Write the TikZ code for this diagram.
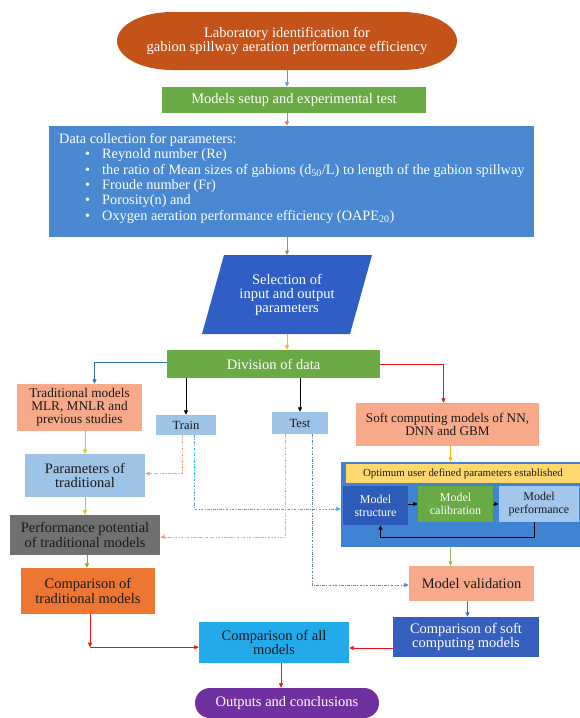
\documentclass[tikz,border=0pt]{standalone}
\usepackage{fontspec}
\setmainfont{Liberation Serif}
\usetikzlibrary{arrows.meta,calc}
\definecolor{cEll}{HTML}{C4531A}
\definecolor{cGreen}{HTML}{6AAA45}
\definecolor{cData}{HTML}{4A89D2}
\definecolor{cSel}{HTML}{2F5FC4}
\definecolor{cSalmon}{HTML}{F7A98A}
\definecolor{cLight}{HTML}{9DC3E6}
\definecolor{cGray}{HTML}{707070}
\definecolor{cOrange}{HTML}{EE7633}
\definecolor{cDark}{HTML}{3560C0}
\definecolor{cAll}{HTML}{22AAEB}
\definecolor{cPurple}{HTML}{7030A0}
\definecolor{cBig}{HTML}{3F84D2}
\definecolor{cBand}{HTML}{FFD86E}
\definecolor{cStruct}{HTML}{2F5BB8}
\definecolor{cPerf}{HTML}{A3C6EC}
\definecolor{cText}{HTML}{1A1A1A}
\definecolor{aBlue}{HTML}{5B9BD5}
\definecolor{aOrange}{HTML}{ED7D31}
\definecolor{aGreen}{HTML}{70AD47}
\definecolor{aYellow}{HTML}{F5B800}
\definecolor{aBlue2}{HTML}{2E75B6}
\definecolor{aRed}{HTML}{F01010}
\definecolor{aOlive}{HTML}{8FA030}
\definecolor{aLGreen}{HTML}{92C050}
\definecolor{aBlue3}{HTML}{4472C4}
\definecolor{aCyan}{HTML}{3AAEE6}
\definecolor{aSteel}{HTML}{5A86BC}
\definecolor{aSalmon}{HTML}{F4A080}
\begin{document}
\begin{tikzpicture}[x=1pt,y=-1pt,
  box/.style={rectangle, inner sep=1pt, align=center, text=cText,
    font=\fontsize{14.5}{14.5}\selectfont},
  smallbox/.style={box, font=\fontsize{12}{13}\selectfont},
  arr/.style={-{Triangle[length=4.5pt,width=4pt]}, line width=0.8pt},
  dd/.style={arr, dash pattern=on 2.5pt off 1.5pt on 0.7pt off 1.5pt}]
\useasboundingbox (0,0) rectangle (579,718);
\fill[white] (0,0) rectangle (579,718);

% top terminal (elliptical ends)
\fill[cEll] (172,12) -- (402,12)
  arc[start angle=-90, end angle=90, x radius=55, y radius=29]
  -- (172,70)
  arc[start angle=90, end angle=270, x radius=55, y radius=29] -- cycle;
\node[box, text=white, minimum width=341pt, minimum height=58pt]
  (ell) at (287,41) {Laboratory identification for\\gabion spillway aeration performance efficiency};
\node[box, fill=cGreen, text=white, minimum width=264pt, minimum height=26pt]
  (models) at (294,100) {Models setup and experimental test};
\node[box, fill=cData, minimum width=485pt, minimum height=111pt] (data) at (291.5,181.5) {};
\node[anchor=north west, inner sep=0pt, align=left, text=white,
  font=\fontsize{14.3}{15.4}\selectfont] (datatext) at (59,133) {%
Data collection for parameters:\\
\hspace*{26pt}\makebox[17pt][l]{\textbullet}Reynold number (Re)\\
\hspace*{26pt}\makebox[17pt][l]{\textbullet}the ratio of Mean sizes of gabions (d\textsubscript{50}/L) to length of the gabion spillway\\
\hspace*{26pt}\makebox[17pt][l]{\textbullet}Froude number (Fr)\\
\hspace*{26pt}\makebox[17pt][l]{\textbullet}Porosity(n) and\\
\hspace*{26pt}\makebox[17pt][l]{\textbullet}Oxygen aeration performance efficiency (OAPE\textsubscript{20})};

% parallelogram
\fill[cSel] (224,255) -- (372,255) -- (350,334) -- (202,334) -- cycle;
\node[box, text=white, minimum width=148pt, minimum height=79pt, font=\fontsize{14.5}{14}\selectfont]
  (sel) at (287,294.5) {Selection of\\input and output\\parameters};

\node[box, fill=cGreen, text=white, minimum width=213pt, minimum height=28pt]
  (div) at (273.5,364) {Division of data};

\node[box, fill=cSalmon, minimum width=125pt, minimum height=47pt, font=\fontsize{13.3}{13.2}\selectfont]
  (trad) at (79.5,407.5) {Traditional models\\MLR, MNLR and\\previous studies};
\node[box, fill=cLight, minimum width=60pt, minimum height=20pt, font=\fontsize{12.5}{13}\selectfont]
  (train) at (186,425) {Train};
\node[box, fill=cLight, minimum width=56pt, minimum height=22pt, font=\fontsize{12.5}{13}\selectfont]
  (test) at (300,423) {Test};
\node[box, fill=cSalmon, minimum width=183pt, minimum height=43pt, font=\fontsize{13.2}{13}\selectfont]
  (soft) at (447.5,424.5) {Soft computing models of NN,\\DNN and GBM};

\node[box, fill=cLight, minimum width=120pt, minimum height=43pt]
  (params) at (85,475.5) {Parameters of\\traditional};
\node[box, fill=cGray, minimum width=150pt, minimum height=40pt]
  (perf) at (85,535) {Performance potential\\of traditional models};
\node[box, fill=cOrange, minimum width=134pt, minimum height=46pt]
  (ctrad) at (88,591) {Comparison of\\traditional models};

% big box
\node[box, fill=cBig, minimum width=239pt, minimum height=85pt] (big) at (460.5,504.5) {};
\node[box, fill=cBand, minimum width=234pt, minimum height=19pt, font=\fontsize{10.9}{11}\selectfont]
  (band) at (463,473.5) {Optimum user defined parameters established};
\node[smallbox, fill=cStruct, text=white, minimum width=65pt, minimum height=39pt]
  (mstruct) at (375.5,505.5) {Model\\structure};
\node[smallbox, fill=cGreen, text=white, minimum width=75pt, minimum height=36pt]
  (mcal) at (455.5,504) {Model\\calibration};
\node[smallbox, fill=cPerf, minimum width=80pt, minimum height=36pt]
  (mperf) at (539,504) {Model\\performance};

\node[box, fill=cSalmon, minimum width=125pt, minimum height=35pt]
  (valid) at (471.5,583.5) {Model validation};
\node[box, fill=cDark, text=white, minimum width=146pt, minimum height=40pt]
  (scomp) at (466,637) {Comparison of soft\\computing models};
\node[box, fill=cAll, minimum width=150pt, minimum height=41pt]
  (all) at (274,642.5) {Comparison of all\\models};
\node[box, fill=cPurple, text=white, rounded corners=15pt, minimum width=184pt, minimum height=30pt]
  (outc) at (287,703) {Outputs and conclusions};

% helper coordinates
\coordinate (pa) at ($(perf.south)+(2,0)$);
\coordinate (sa) at ($(soft.south)+(3,0)$);
\coordinate (va) at ($(valid.south)+(-4,0)$);
\coordinate (aa) at ($(all.south)+(7,0)$);
\coordinate (k1) at ($(ctrad.south)+(2,33)$);
\coordinate (k0) at ($(ctrad.south)+(2,0)$);

% connectors
\draw[arr, aBlue] (ell.south) -- (ell.south |- models.north);
\draw[arr, aOrange] (ell.south |- models.south) -- (ell.south |- data.north);
\draw[arr, aGreen] (ell.south |- data.south) -- (ell.south |- 0,255);
\draw[arr, aYellow] (sel.south) -- (sel.south |- div.north);
\draw[arr, aBlue2] ($(div.west)+(0,-2)$) -| ($(trad.north)+(15,0)$);
\draw[arr, black] (train.north |- div.south) -- (train.north);
\draw[arr, black] (test.north |- div.south) -- (test.north);
\draw[arr, aRed] (div.east) -| ($(soft.north)+(-4,0)$);
\draw[arr, aYellow] (params.north |- trad.south) -- (params.north);
\draw[arr, aYellow] (params.south) -- (perf.north);
\draw[arr, aOlive] (pa) -- (pa |- ctrad.north);
\draw[arr, aYellow] (sa) -- (sa |- big.north);
\draw[arr, aLGreen] (sa |- big.south) -- (sa |- valid.north);
\draw[arr, aBlue3] (va) -- (va |- scomp.north);

\draw[dd, aSalmon] ($(train.south)+(-4,0)$) |- ($(params.east)+(0,-2)$);
\draw[dd, aCyan] ($(train.south)+(8,0)$) |- ($(big.west)+(0,4.5)$);
\draw[dd, aSalmon] ($(test.south)+(-15,0)$) |- ($(perf.east)+(0,2)$);
\draw[dd, aSteel] ($(test.south)+(12,0)$) |- ($(valid.west)+(0,1.5)$);

\draw[arr, black] (mstruct.east |- mcal.west) -- (mcal.west);
\draw[arr, black] (mcal.east) -- (mperf.west);
\draw[arr, black, line width=1pt] ($(mperf.south)+(-5,0)$) -- ++(0,15) -| ($(mstruct.south)+(5,0)$);

\draw[arr, aRed] (k0) -- (k1);
\draw[arr, aRed] (k1) -- (all.west |- k1);
\draw[arr, aRed] ($(scomp.west)+(0,11)$) -- ($(all.east)+(0,5.5)$);
\draw[arr, aRed] (aa) -- (aa |- outc.north);
\end{tikzpicture}
\end{document}
